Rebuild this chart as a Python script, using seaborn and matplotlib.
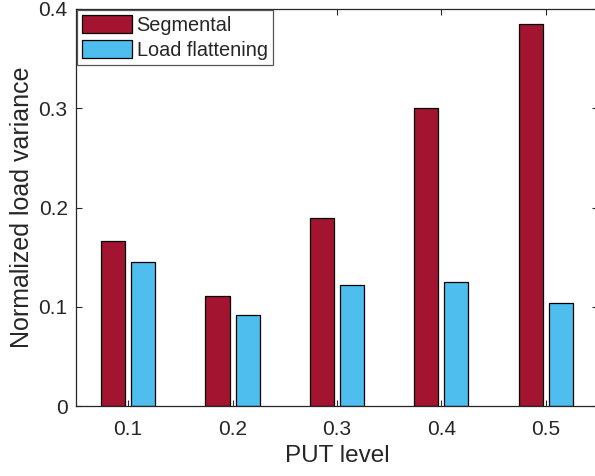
import numpy as np
import matplotlib
matplotlib.use("Agg")
import matplotlib.pyplot as plt
import seaborn as sns
import pandas as pd
from matplotlib.patches import Patch

put_levels = ["0.1", "0.2", "0.3", "0.4", "0.5"]
segmental = [0.166, 0.1114, 0.190, 0.300, 0.3847]
load_flattening = [0.1456, 0.0922, 0.1225, 0.1255, 0.1043]
series = ["Segmental", "Load flattening"]
colors = ["#A2142F", "#4DBEEE"]

df = pd.DataFrame({
    "level": put_levels * 2,
    "value": segmental + load_flattening,
    "method": [series[0]] * 5 + [series[1]] * 5,
})

sns.set_style("ticks")
plt.rcParams["font.family"] = ["Liberation Sans", "DejaVu Sans"]

fig = plt.figure(figsize=(5.95, 4.76), dpi=100)
ax = fig.add_axes([0.1277, 0.1464, 0.877, 0.8347])

sns.barplot(data=df, x="level", y="value", hue="method", order=put_levels,
            hue_order=series, palette=colors, width=0.576, gap=0.2,
            edgecolor="black", linewidth=0.9, saturation=1, ax=ax, legend=False)

ax.set_xlim(-0.5, 4.5)
ax.set_ylim(0, 0.4)
ax.set_yticks([0, 0.1, 0.2, 0.3, 0.4])
ax.set_yticklabels(["0", "0.1", "0.2", "0.3", "0.4"])
ax.set_xlabel("PUT level", fontsize=17.5, color="#262626", labelpad=4)
ax.set_ylabel("Normalized load variance", fontsize=18, color="#262626", labelpad=3)
ax.tick_params(direction="in", length=4, width=0.8, labelsize=15,
               colors="#262626", top=True, right=True, pad=6)
ax.tick_params(axis="x", pad=10)
for s in ax.spines.values():
    s.set_color("#262626")
    s.set_linewidth(0.9)

handles = [Patch(facecolor=c, edgecolor="black", linewidth=0.9) for c in colors]
leg = ax.legend(handles, series, loc="upper left", fontsize=14.3,
                frameon=True, fancybox=False, framealpha=1,
                borderaxespad=0.05, handlelength=2.5, handleheight=1.05,
                handletextpad=0.25, labelspacing=0.25, borderpad=0.25)
leg.get_frame().set_edgecolor("#555555")
leg.get_frame().set_linewidth(0.9)

fig.savefig("out.png", dpi=100)
